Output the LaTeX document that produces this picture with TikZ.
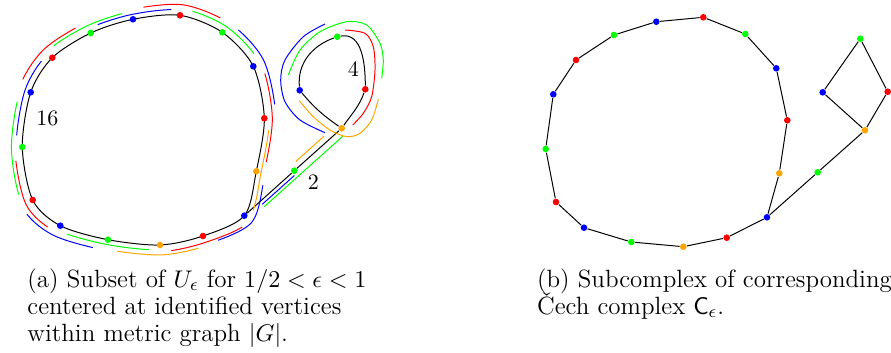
\documentclass[tikz,border=0pt]{standalone}
\definecolor{grafoNaranja}{HTML}{FFA500}
\usetikzlibrary{calc, backgrounds}
\tikzset{
	vertice/.style={
		circle,
		fill=#1,
		inner sep=0pt,
		minimum size=3pt
	},
	arista/.style={
		black,
		line width=0.45pt
	},
	vecindad/.style={
		#1,
		line width=0.45pt
	},
	etiqueta/.style={
		inner sep=0pt
	},
	leyenda/.style={
		anchor=base west,
		inner sep=0pt,
		font=\fontsize{11.35}{13.6}\selectfont
	}
}
% lazo grande escalado desde (ctr)
\newcommand{\lazo}[2]{%
	\draw[#1] plot[smooth cycle] coordinates {
		($(ctr)!#2!(a1)$) ($(ctr)!#2!(a2)$) ($(ctr)!#2!(a3)$) ($(ctr)!#2!(a4)$)
		($(ctr)!#2!(a5)$) ($(ctr)!#2!(a6)$) ($(ctr)!#2!(a7)$) ($(ctr)!#2!(a8)$)
		($(ctr)!#2!(a9)$) ($(ctr)!#2!(a10)$) ($(ctr)!#2!(a11)$) ($(ctr)!#2!(a12)$)
		($(ctr)!#2!(a13)$) ($(ctr)!#2!(a14)$) ($(ctr)!#2!(a15)$) ($(ctr)!#2!(a16)$)};}
\newcommand{\vecin}[5]{%
	\begin{scope}
		\coordinate (p) at ($(#2)!.78!(#3)$);
		\coordinate (q) at ($(#2)!.78!(#4)$);
		\clip (ctr) -- ($(ctr)!3!(p)$) -- ($(ctr)!3!(#2)$) -- ($(ctr)!3!(q)$) -- cycle;
		\lazo{vecindad=#1}{#5}
	\end{scope}}

\begin{document}
\begin{tikzpicture}[x=0.4545pt, y=-0.4545pt]
	\useasboundingbox (0,0) rectangle (891,353);
	\coordinate (ctr) at (143,130);
	\node[vertice=blue] (a1) at (244.3,215.7) {};
	\node[vertice=red] (a2) at (203,236) {};
	\node[vertice=grafoNaranja] (a3) at (160,245) {};
	\node[vertice=green] (a4) at (108,239.7) {};
	\node[vertice=blue] (a5) at (60.3,225.7) {};
	\node[vertice=red] (a6) at (32.7,200) {};
	\node[vertice=green] (a7) at (22.3,147) {};
	\node[vertice=blue] (a8) at (30.7,92.3) {};
	\node[vertice=red] (a9) at (52.3,57.7) {};
	\node[vertice=green] (a10) at (90.7,33) {};
	\node[vertice=blue] (a11) at (133,19.3) {};
	\node[vertice=red] (a12) at (180,15.3) {};
	\node[vertice=green] (a13) at (222.3,32.3) {};
	\node[vertice=blue] (a14) at (253.3,66.3) {};
	\node[vertice=red] (a15) at (264.3,118.3) {};
	\node[vertice=grafoNaranja] (a16) at (256.3,171.3) {};
	\node[vertice=green] (ag) at (294.3,170.7) {};
	\node[vertice=grafoNaranja] (so) at (341.7,128.3) {};
	\node[vertice=blue] (sb) at (299.7,90.3) {};
	\node[vertice=green] (sg) at (337.3,36.7) {};
	\node[vertice=red] (sr) at (365.3,89.3) {};
	\node[etiqueta] (l16) at (47.3,118.3) {16};
	\node[etiqueta] (l4) at (353.3,69) {4};
	\node[etiqueta] (l2) at (313.3,182.3) {2};
	\begin{scope}[on background layer]
		\lazo{arista}{1}
		\draw[arista] (a1) -- (ag) -- (so);
		\draw[arista] (so) to[out=145,in=-50] (sb) to[out=95,in=200] (sg)
			to[out=10,in=90] (sr) to[out=-110,in=55] (so);
		\vecin{blue}{a1}{a16}{a2}{1.075}
		\vecin{red}{a2}{a1}{a3}{1.057}
		\vecin{grafoNaranja}{a3}{a2}{a4}{1.086}
		\vecin{green}{a4}{a3}{a5}{1.043}
		\vecin{blue}{a5}{a4}{a6}{1.095}
		\vecin{red}{a6}{a5}{a7}{1.061}
		\vecin{green}{a7}{a6}{a8}{1.09}
		\vecin{blue}{a8}{a7}{a9}{1.051}
		\vecin{red}{a9}{a8}{a10}{1.103}
		\vecin{green}{a10}{a9}{a11}{1.073}
		\vecin{blue}{a11}{a10}{a12}{1.045}
		\vecin{red}{a12}{a11}{a13}{1.091}
		\vecin{green}{a13}{a12}{a14}{1.056}
		\vecin{blue}{a14}{a13}{a15}{1.094}
		\vecin{red}{a15}{a14}{a16}{1.066}
		\vecin{grafoNaranja}{a16}{a15}{a1}{1.041}
		\draw[vecindad=blue] ($(a1)!.16!(so)!1.6pt!-90:(so)$) -- ($(a1)!.49!(so)!1.6pt!-90:(so)$);
		\draw[vecindad=green] ($(a1)!.16!(so)!3pt!-90:(so)$) -- ($(a1)!.97!(so)!3pt!-90:(so)$);
		\draw[vecindad=grafoNaranja] ($(a1)!.57!(so)!2.7pt!90:(so)$) -- ($(a1)!.86!(so)!2.7pt!90:(so)$);
		\draw[vecindad=blue] plot[smooth] coordinates {(325,24) (303.3,36.7) (285,60) (280.7,80) (285,101.7) (300,120) (325,132.7)};
		\draw[vecindad=green] plot[smooth] coordinates {(288.3,75) (300,50) (320,31.7) (346.7,21.7) (366.7,25) (380,43.3) (383.3,60) (381.7,78.3)};
		\draw[vecindad=red] plot[smooth] coordinates {(345,30) (365,33.3) (373.3,46.7) (375,70) (371.7,96.7) (363.3,113.3) (352.7,125)};
		\draw[vecindad=grafoNaranja] plot[smooth] coordinates {(299.3,100.7) (313.3,116.7) (330,130) (346.7,136.7) (360,133.3) (371.7,120) (378.3,99.3)};
	\end{scope}
	\node[vertice=blue] (b1) at (767,217.3) {};
	\node[vertice=red] (b2) at (726.7,237.7) {};
	\node[vertice=grafoNaranja] (b3) at (683.3,246.7) {};
	\node[vertice=green] (b4) at (631.3,242) {};
	\node[vertice=blue] (b5) at (584,227.7) {};
	\node[vertice=red] (b6) at (556,202) {};
	\node[vertice=green] (b7) at (545.7,149) {};
	\node[vertice=blue] (b8) at (553.3,94.3) {};
	\node[vertice=red] (b9) at (576,60) {};
	\node[vertice=green] (b10) at (614,35) {};
	\node[vertice=blue] (b11) at (656.3,21.7) {};
	\node[vertice=red] (b12) at (703.3,17.3) {};
	\node[vertice=green] (b13) at (745.3,34) {};
	\node[vertice=blue] (b14) at (776.3,68.3) {};
	\node[vertice=red] (b15) at (787.3,120.3) {};
	\node[vertice=grafoNaranja] (b16) at (779.3,173.3) {};
	\node[vertice=green] (bg) at (817.7,172.3) {};
	\node[vertice=grafoNaranja] (co) at (865,130.3) {};
	\node[vertice=blue] (cb) at (822.7,92.3) {};
	\node[vertice=green] (cg) at (860.3,38.7) {};
	\node[vertice=red] (cr) at (887.7,91.7) {};
	\foreach \i [remember=\i as \j (initially 16)] in {1,...,16}
		\draw[arista] (b\j) -- (b\i);
	\draw[arista] (b1) -- (bg) -- (co) -- (cb) -- (cg) -- (cr) -- (co);
	\node[leyenda] (capA1) at (27,287) {(a) Subset of $U_\epsilon$ for $1/2<\epsilon<1$};
	\node[leyenda] (capA2) at (27,314) {centered at identified vertices};
	\node[leyenda] (capA3) at (27,341) {within metric graph $|G|$.};
	\node[leyenda] (capB1) at (536.7,287) {(b) Subcomplex of corresponding};
	\node[leyenda] (capB2) at (536.7,314) {\v{C}ech complex $\mathsf{C}_\epsilon$.};
\end{tikzpicture}
\end{document}
